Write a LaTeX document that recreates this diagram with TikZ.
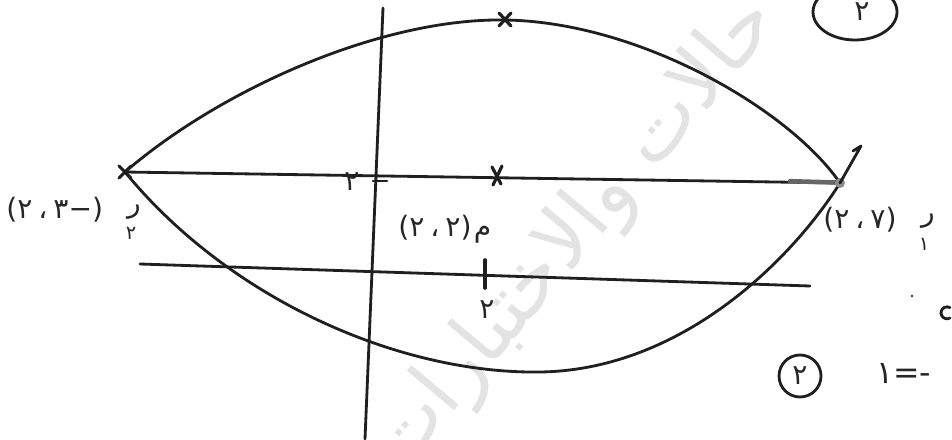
\documentclass[tikz,border=0pt]{standalone}
\usepackage{fontspec}
\newfontfamily\arabicfont[Script=Arabic]{DejaVu Sans}
\newfontfamily\digitfont{DejaVu Sans}
\TeXXeTstate=1
\begin{document}
\begin{tikzpicture}[x=0.02cm,y=-0.02cm,
  pen/.style={line width=1.6pt,line cap=round,line join=round,black!88},
  lbl/.style={font=\digitfont\fontsize{16}{18}\selectfont,text=black!85,inner sep=0pt},
  nx/.style={lbl,anchor=base west},
  sub/.style={lbl,font=\digitfont\fontsize{11}{12}\selectfont},
  xmark/.style={pen,line width=1.8pt}]
\useasboundingbox (0,0) rectangle (952,439);
\fill[white] (0,0) rectangle (952,439);
% watermark
\node[rotate=50,text=black!11,font=\arabicfont\fontsize{46}{50}\selectfont,inner sep=0pt] (wm) at (575,235) {\beginR حالات والاختبارات\endR};
% key points
\coordinate (L) at (125,172);
\coordinate (R) at (840,183);
\coordinate (T) at (505,20);
\coordinate (B) at (540,372);
\coordinate (M) at (497,176);
\coordinate (va) at (383,8);
\coordinate (vb) at (365,439);
\coordinate (la) at (140,264);
\coordinate (lb) at (810,286);
\coordinate (tk) at (485,274);
\coordinate (hook) at (861,146);
% curves
\draw[pen] (L) .. controls (220,90) and (380,18) .. (T)
           .. controls (640,22) and (790,110) .. (R);
\draw[pen] (L) .. controls (230,300) and (400,374) .. (B)
           .. controls (680,370) and (790,262) .. (R);
% lines
\draw[pen] (L) -- (R);
\draw[pen,line width=2.6pt,black!60] (790,181.2) -- (836,182.5);
\draw[pen] (la) -- (lb);
\draw[pen] (va) -- (vb);
% ticks and marks
\draw[pen,line width=2pt] ([yshift=-8]tk) -- ([yshift=8]tk);
\draw[pen] (373,181) -- (387,181);
\draw[xmark] ([shift={(-6,-7)}]T) -- ([shift={(6,6)}]T) ([shift={(6,-7)}]T) -- ([shift={(-6,6)}]T);
\draw[xmark] ([shift={(-5,-9)}]M) -- ([shift={(4,8)}]M) ([shift={(5,-10)}]M) -- ([shift={(-4,9)}]M);
\draw[xmark] ([shift={(-6,-6)}]L) -- ([shift={(6,6)}]L) ([shift={(6,-6)}]L) -- ([shift={(-6,6)}]L);
\fill[black!45] (R) circle (5);
\draw[pen] (R) -- (hook) -- (853,151);
% labels on axes
\node[lbl] (l2) at (352,182) {٢};
\node[lbl] (lt) at (487,310) {٢};
% centre label
\node[nx] (c1) at (398,236) {(٢};
\node[nx] (c2) at ([xshift=3pt]c1.base east) {،};
\node[nx] (c3) at ([xshift=3pt]c2.base east) {٢)};
\node[nx] (c4) at ([xshift=1pt]c3.base east) {م};
% left label
\node[nx] (a1) at (6,218) {(٢};
\node[nx] (a2) at ([xshift=3pt]a1.base east) {،};
\node[nx] (a3) at ([xshift=3pt]a2.base east) {٣−)};
\node[lbl] (ar) at (134,212) {ر};
\node[sub] (ar2) at (131,233) {٢};
% right label
\node[nx] (b1) at (823,228) {(٢};
\node[nx] (b2) at ([xshift=3pt]b1.base east) {،};
\node[nx] (b3) at ([xshift=3pt]b2.base east) {٧)};
\node[lbl] (br) at (928,221) {ر};
\node[sub] (br1) at (924,244) {١};
% circled numbers
\draw[pen] (855,12) ellipse (42 and 28);
\node[lbl] (k1) at (862,12) {٢};
\draw[pen] (800,376) circle (21);
\node[lbl] (k2) at (800,376) {٢};
\node[lbl,anchor=west,font=\digitfont\fontsize{18}{20}\selectfont] (eq) at (876,373) {١=-};
\draw[pen] (950,318) arc (60:300:6);
\fill[black!80] (912,296) circle (1.3);
\end{tikzpicture}
\end{document}
